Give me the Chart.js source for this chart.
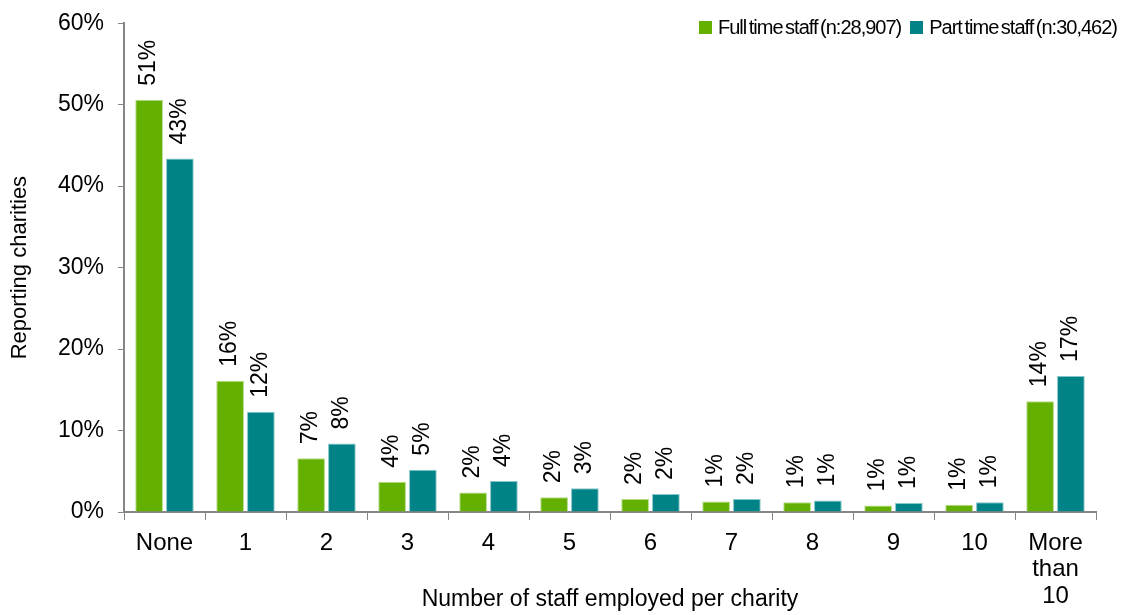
<!DOCTYPE html>
<html>
<head>
<meta charset="utf-8">
<script src="https://cdn.jsdelivr.net/npm/chart.js@4.4.1/dist/chart.umd.min.js"></script>
<style>
  body { margin: 0; background: #fff; font-family: "Liberation Sans", Arial, sans-serif; }
  #wrap { position: relative; width: 1136px; height: 615px; }
  #legend { position: absolute; top: 16px; right: 19px; display: flex; font-size: 20px; letter-spacing: -1px; word-spacing: -2px; color: #000; white-space: nowrap; }
  .item { display: flex; align-items: center; margin-left: 9px; }
  .box { width: 13px; height: 13px; margin-right: 6px; }
</style>
</head>
<body>
<div id="wrap">
  <canvas id="staffChart" width="1136" height="615"></canvas>
  <div id="legend"></div>
</div>
<script>
// values (percent of reporting charities)
const categories = ['None', '1', '2', '3', '4', '5', '6', '7', '8', '9', '10', ['More', 'than', '10']];
const fullTime = [50.6, 16.1, 6.6, 3.7, 2.4, 1.8, 1.6, 1.3, 1.2, 0.8, 0.9, 13.6];
const partTime = [43.4, 12.3, 8.4, 5.2, 3.8, 2.9, 2.2, 1.6, 1.4, 1.1, 1.2, 16.7];
const seriesNames = ['Full time staff (n:28,907)', 'Part time staff (n:30,462)'];
const yMin = 0;
const yMax = 60;
const yStep = 10;

const fontFamily = '"Liberation Sans", Arial, sans-serif';
const axisColor = '#868686';

const barLabels = {
    id: 'barLabels',
    afterDatasetsDraw(chart) {
        const ctx = chart.ctx;
        ctx.save();
        ctx.font = '23px ' + fontFamily;
        ctx.fillStyle = '#000';
        ctx.textAlign = 'left';
        ctx.textBaseline = 'middle';
        chart.data.datasets.forEach((ds, i) => {
            chart.getDatasetMeta(i).data.forEach((bar, j) => {
                ctx.save();
                ctx.translate(bar.x, bar.y - 14);
                ctx.rotate(-Math.PI / 2);
                ctx.fillText(Math.round(ds.data[j]) + '%', 0, 0);
                ctx.restore();
            });
        });
        ctx.restore();
    }
};

const chart = new Chart(document.getElementById('staffChart').getContext('2d'), {
    type: 'bar',
    data: {
        labels: categories,
        datasets: [{
            label: seriesNames[0],
            data: fullTime,
            backgroundColor: '#64b000',
            borderColor: '#b5dc86',
            borderWidth: 1,
            categoryPercentage: 0.76,
            barPercentage: 0.9
        },
        {
            label: seriesNames[1],
            data: partTime,
            backgroundColor: '#008387',
            borderColor: '#86c6c8',
            borderWidth: 1,
            categoryPercentage: 0.76,
            barPercentage: 0.9
        }]
    },
    options: {
        responsive: false,
        animation: false,
        layout: {
            padding: { left: 5, top: 4, right: 40, bottom: 0 }
        },
        scales: {
            x: {
                grid: {
                    offset: true,
                    drawOnChartArea: false,
                    drawTicks: true,
                    tickLength: 8,
                    color: axisColor
                },
                border: { color: axisColor, width: 2 },
                ticks: {
                    color: '#000',
                    padding: 10,
                    maxRotation: 0,
                    autoSkip: false,
                    font: { family: fontFamily, size: 24, lineHeight: 1.1 }
                },
                title: {
                    display: true,
                    text: 'Number of staff employed per charity',
                    color: '#000',
                    padding: { top: 0, bottom: 2 },
                    font: { family: fontFamily, size: 23 }
                },
                afterFit: (scale) => { scale.height = 103; }
            },
            y: {
                min: yMin,
                max: yMax,
                grid: {
                    drawOnChartArea: false,
                    drawTicks: true,
                    tickLength: 6,
                    color: axisColor
                },
                border: { color: axisColor, width: 2 },
                ticks: {
                    stepSize: yStep,
                    color: '#000',
                    padding: 14,
                    font: { family: fontFamily, size: 23, lineHeight: 0.8 },
                    callback: (value) => value + '%'
                },
                title: {
                    display: true,
                    text: 'Reporting charities',
                    color: '#000',
                    padding: { top: 2, bottom: 0 },
                    font: { family: fontFamily, size: 22 }
                },
                afterFit: (scale) => { scale.width = 119; }
            }
        },
        plugins: {
            legend: { display: false },
            tooltip: { enabled: false }
        }
    },
    plugins: [barLabels]
});

// legend built from the chart's datasets
const legendEl = document.getElementById('legend');
chart.data.datasets.forEach(ds => {
    const item = document.createElement('div');
    item.className = 'item';
    const box = document.createElement('span');
    box.className = 'box';
    box.style.background = ds.backgroundColor;
    const txt = document.createElement('span');
    txt.textContent = ds.label;
    item.appendChild(box);
    item.appendChild(txt);
    legendEl.appendChild(item);
});
</script>
</body>
</html>
